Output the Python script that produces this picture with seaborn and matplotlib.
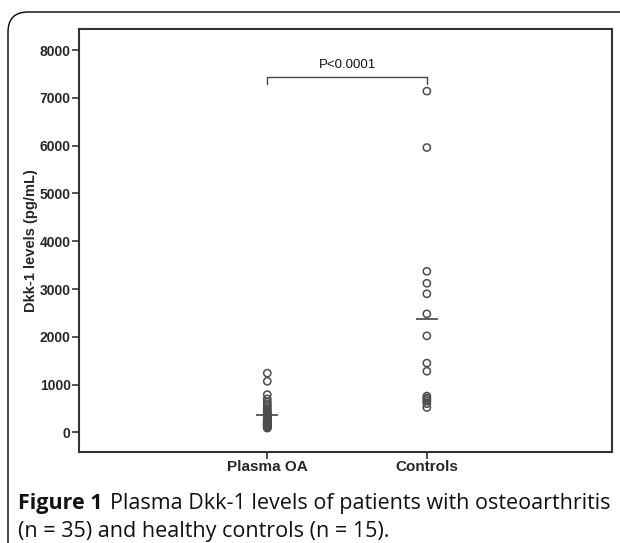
import numpy as np
import pandas as pd
import matplotlib
matplotlib.use('Agg')
import matplotlib.pyplot as plt
import seaborn as sns
from matplotlib.patches import FancyBboxPatch
from matplotlib.transforms import IdentityTransform

# values (pg/mL)
groups = ['Plasma OA', 'Controls']
plasma_oa = [1240, 1070, 790, 700, 640, 600, 560, 520, 480, 450, 420, 400,
             380, 350, 330, 310, 290, 270, 250, 240, 230, 220, 210, 200,
             190, 180, 170, 160, 150, 140, 130, 120, 110, 100, 90]
controls = [7140, 5960, 3370, 3120, 2900, 2480, 2020, 1450, 1280, 760, 720,
            690, 650, 600, 520]
group_means = [360, 2380]
y_ticks = [0, 1000, 2000, 3000, 4000, 5000, 6000, 7000, 8000]
p_text = 'P<0.0001'

df = pd.DataFrame({
    'group': [groups[0]] * len(plasma_oa) + [groups[1]] * len(controls),
    'value': plasma_oa + controls,
})

sns.set_style('white')
plt.rcParams['font.family'] = ['Liberation Sans', 'DejaVu Sans']

fig = plt.figure(figsize=(6.2, 5.43), dpi=100)
ax = fig.add_axes([0.1274, 0.1676, 0.8596, 0.779])

sns.stripplot(data=df, x='group', y='value', order=groups, jitter=False,
              size=5.2, linewidth=1.1, ax=ax, color='#4d4d4d')
for coll in ax.collections:
    coll.set_facecolor('none')
    coll.set_edgecolor('#4d4d4d')
    coll.set_linewidth(1.1)

xpos = np.arange(len(groups))
ax.hlines(group_means, xpos - 0.07, xpos + 0.07, color='#333333', lw=1.1)

# significance bracket
yb = 7440
ax.plot([xpos[0], xpos[0], xpos[1], xpos[1]], [yb - 150, yb, yb, yb - 150],
        color='#444444', lw=1.0)
ax.text(xpos.mean(), yb + 120, p_text, ha='center', va='bottom', fontsize=9.5,
        color='#111111')

ax.set_xlim(-1.18, 2.16)
ax.set_ylim(-410, 8440)
ax.set_yticks(y_ticks)
ax.set_yticklabels([str(v) for v in y_ticks], fontweight='bold', fontsize=10)
ax.set_xticks(xpos)
ax.set_xticklabels(groups, fontweight='bold', fontsize=11)
ax.set_xlabel('')
ax.set_ylabel('Dkk-1 levels (pg/mL)', fontweight='bold', fontsize=10.5,
              labelpad=1)
ax.tick_params(axis='both', direction='out', length=5, width=1.2,
               color='#333333', left=True, bottom=True, pad=1)
for s in ax.spines.values():
    s.set_color('#333333')
    s.set_linewidth(1.5)

# rounded frame around figure and caption
frame = FancyBboxPatch((8, -60), 700, 591, boxstyle='round,pad=0,rounding_size=20',
                       transform=IdentityTransform(), fill=False,
                       edgecolor='black', lw=1.0)
fig.add_artist(frame)

# caption with bold "Figure 1"
cap_font = ['Open Sans', 'DejaVu Sans']
cap_size = 15.5
fig.canvas.draw()
renderer = fig.canvas.get_renderer()
t1 = fig.text(18 / 620, 1 - 504 / 543, 'Figure 1', fontsize=cap_size,
              fontweight='bold', family=cap_font, va='center', ha='left',
              color='#111111')
bb = t1.get_window_extent(renderer)
fig.text((bb.x1 + 7) / 620, 1 - 504 / 543,
         'Plasma Dkk-1 levels of patients with osteoarthritis',
         fontsize=cap_size, family=cap_font, va='center', ha='left',
         color='#111111')
fig.text(18 / 620, 1 - 531 / 543, '(n = 35) and healthy controls (n = 15).',
         fontsize=cap_size, family=cap_font, va='center', ha='left',
         color='#111111')

fig.savefig('out.png', dpi=100)
